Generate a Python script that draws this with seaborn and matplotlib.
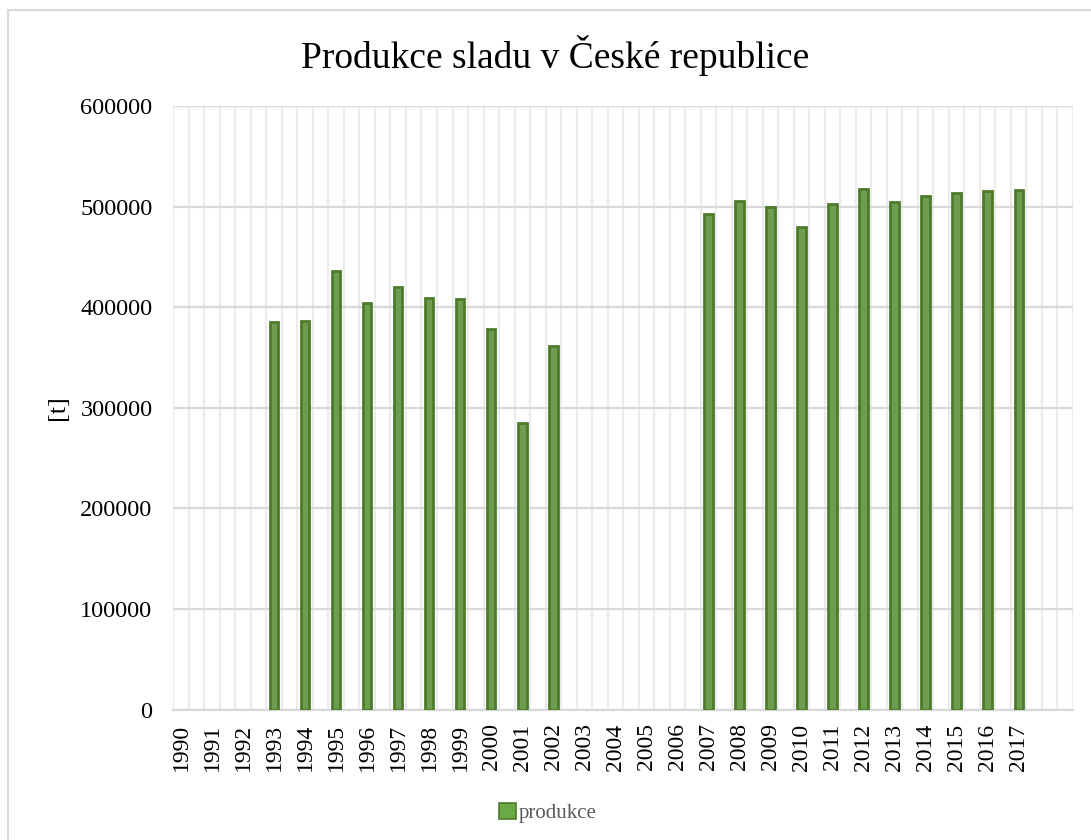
import numpy as np
import pandas as pd
import matplotlib
matplotlib.use("Agg")
import matplotlib.pyplot as plt
from matplotlib.patches import Rectangle, Patch
import seaborn as sns

years = list(range(1990, 2018))
produkce = [None, None, None, 385500, 386500, 436000, 403800, 420000, 409000, 407800,
            378000, 284500, 361600, None, None, None, None, 492800, 505800, 499500,
            479600, 502800, 517400, 504800, 510100, 514000, 515000, 516000]
series_name = "produkce"
title = "Produkce sladu v České republice"
ylabel = "[t]"

df = pd.DataFrame({"rok": [str(y) for y in years], "hodnota": produkce})
df["serie"] = series_name
df = df.dropna(subset=["hodnota"])

sns.set_theme(style="white")
plt.rcParams["font.family"] = ["Liberation Serif", "DejaVu Serif"]

fig = plt.figure(figsize=(10.91, 8.40), dpi=100)
W, H = 1091, 840
left, right, top, bottom = 173.3, 1073, 106, 709.5
ax = fig.add_axes([left / W, 1 - bottom / H, (right - left) / W, (bottom - top) / H])

fill = "#6BA945"
edge = "#4D7B2B"
sns.barplot(data=df, x="rok", y="hodnota", hue="serie", order=[str(y) for y in years],
            palette=[fill], width=0.27, edgecolor=edge, linewidth=2.0, ax=ax,
            legend=False, zorder=3)

ax.set_xlim(-0.25, 28.75)
ax.set_ylim(0, 600000)
ax.set_yticks(np.arange(0, 600001, 100000))
ax.set_yticklabels([str(v) for v in range(0, 600001, 100000)], fontsize=17.5, color="black")
ax.set_xticks(range(len(years)))
ax.set_xticklabels([str(y) for y in years], rotation=90, fontsize=17, color="black")
ax.set_xticks(np.arange(-0.25, 28.76, 0.5), minor=True)
ax.tick_params(axis="both", which="both", length=0)
ax.tick_params(axis="y", pad=15)
ax.tick_params(axis="x", pad=10)

ax.grid(False)
ax.xaxis.grid(True, which="minor", color="#ECECEC", linewidth=1.6, zorder=0)
ax.yaxis.grid(True, which="major", color="#D9D9D9", linewidth=1.6, zorder=1)
ax.set_axisbelow(True)
for s in ["top", "right", "left"]:
    ax.spines[s].set_visible(False)
ax.spines["bottom"].set_color("#D9D9D9")
ax.spines["bottom"].set_linewidth(1.6)

ax.set_xlabel("")
ax.set_ylabel(ylabel, fontsize=19, color="black")
ax.yaxis.set_label_coords((69 - left) / (right - left), 0.5)

fig.text(555 / W, 1 - 55 / H, title, ha="center", va="center", fontsize=27, color="black")

handles = [Patch(facecolor=fill, edgecolor=edge, linewidth=1.2, label=series_name)]
fig.legend(handles=handles, loc="center", bbox_to_anchor=(548 / W, 1 - 813 / H),
           frameon=False, fontsize=15, labelcolor="#595959", handlelength=0.8,
           handleheight=0.8, handletextpad=0.15)

fig.patches.append(Rectangle((8 / W, -0.1), 1.2, 1.1 - 10 / H, transform=fig.transFigure,
                             fill=False, edgecolor="#D9D9D9", linewidth=1.5, zorder=0))

fig.savefig("out.png", dpi=100, facecolor="white")
